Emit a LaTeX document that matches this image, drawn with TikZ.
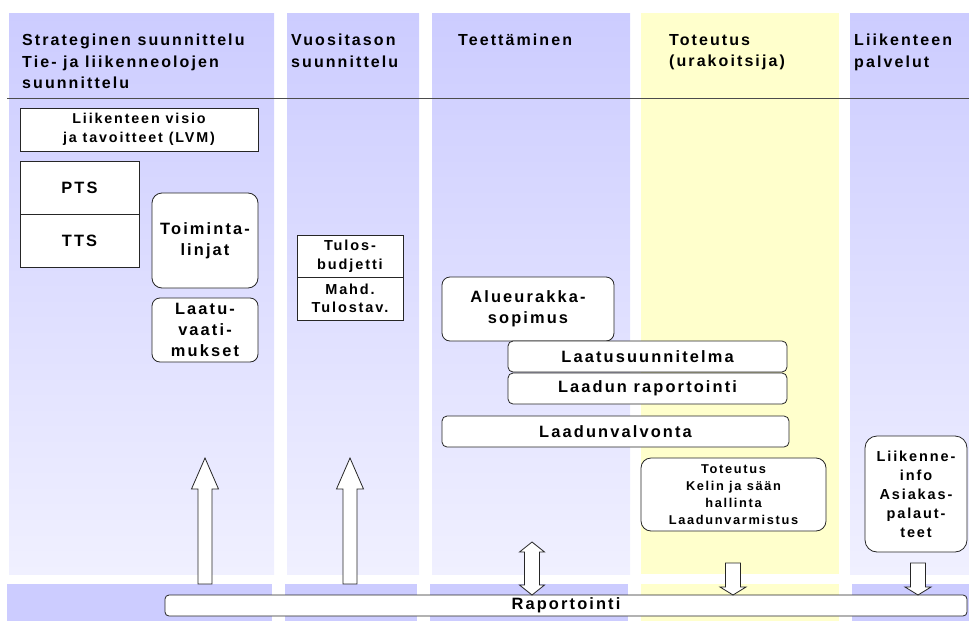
\documentclass[tikz,border=0pt]{standalone}
\usepackage{fontspec}
\setmainfont{Liberation Sans}[LetterSpace=13]
\usepackage{tikz}
\definecolor{lane}{RGB}{204,204,255}
\definecolor{lanelight}{RGB}{240,240,255}
\definecolor{lanegelb}{RGB}{255,255,204}

\tikzset{
  hdr/.style={anchor=north west, inner sep=0pt, align=left,
    font=\fontsize{16}{21.5}\selectfont\bfseries},
  box/.style={draw=black!85, line width=0.8pt, fill=white, inner sep=0pt,
    align=center, font=\fontsize{16.4}{21}\selectfont\bfseries},
  rbox/.style={box, rounded corners=#1},
  rbox/.default=6pt,
  blockarrow/.style={draw=black!85, line width=0.8pt, fill=white}
}

\begin{document}
\begin{tikzpicture}[x=1pt,y=-1pt]
\useasboundingbox (0,0) rectangle (969,621);
% draw lanes
\foreach \xa/\xb in {9/274,287/419,432/630,850/969}{
	\shade[top color=lane, bottom color=lanelight] (\xa,13) rectangle (\xb,574);
}
\fill[lanegelb] (641,13) rectangle (839,574);
\foreach \xa/\xb in {7/272,285/417,430/628,852/969}{
	\fill[lane] (\xa,584) rectangle (\xb,621);
}
\fill[lanegelb] (641,584) rectangle (839,621);
\draw[black!70,line width=1pt] (7,98) -- (969,98);
% draw lane headers
\node (strat) [hdr] at (22,34) {Strateginen suunnittelu\\Tie- ja liikenneolojen\\suunnittelu};
\node (vuosi) [hdr] at (291,34) {Vuositason\\suunnittelu};
\node (teett) [hdr] at (458,34) {Teettäminen};
\node (toteu) [hdr] at (669,34) {Toteutus\\(urakoitsija)};
\node (palv)  [hdr] at (854,34) {Liikenteen\\palvelut};
% draw boxes
\node (lvm) [box, minimum width=238, minimum height=43, font=\fontsize{14.3}{19}\selectfont\bfseries] at (139,129.5) {Liikenteen visio\\ja tavoitteet (LVM)};
\node (pts) [box, minimum width=119, minimum height=53] at (79.5,187.5) {PTS};
\node (tts) [box, minimum width=119, minimum height=53] at (79.5,240.5) {TTS};
\node (toim) [rbox=10pt, minimum width=106, minimum height=95] at (205,240.5) {Toiminta-\\linjat};
\node (laatu) [rbox=8pt, minimum width=106, minimum height=64] at (205,330) {Laatu-\\vaati-\\mukset};
\node (tulos) [box, minimum width=106, minimum height=42, font=\fontsize{14.5}{18.5}\selectfont\bfseries] at (350,256) {Tulos-\\budjetti};
\node (mahd) [box, minimum width=106, minimum height=43, font=\fontsize{14.5}{18.5}\selectfont\bfseries] at (350,298.5) {Mahd.\\Tulostav.};
\node (alue) [rbox=8pt, minimum width=172, minimum height=64] at (528,309) {Alueurakka-\\sopimus};
\node (lsuun) [rbox=5pt, minimum width=279, minimum height=31] at (647.5,356.5) {Laatusuunnitelma};
\node (lrap) [rbox=5pt, minimum width=279, minimum height=31] at (647.5,388.5) {Laadun raportointi};
\node (lval) [rbox=5pt, minimum width=347, minimum height=31] at (615.5,431.5) {Laadunvalvonta};
\node (tot) [rbox=10pt, minimum width=185, minimum height=73, font=\fontsize{12.8}{17}\selectfont\bfseries] at (733.5,494.5) {Toteutus\\Kelin ja sään\\hallinta\\Laadunvarmistus};
\node (liik) [rbox=12pt, minimum width=102, minimum height=116, font=\fontsize{14.5}{19}\selectfont\bfseries] at (916,494) {Liikenne-\\info\\Asiakas-\\palaut-\\teet};
\node (rap) [rbox=4pt, minimum width=802, minimum height=21] at (566,605.5) {Raportointi};
% draw up arrows into planning
\foreach \cx in {205,350}{
	\draw[blockarrow] (\cx-7,584) -- (\cx-7,489) -- (\cx-13.5,489) -- (\cx,458)
		-- (\cx+13.5,489) -- (\cx+7,489) -- (\cx+7,584) -- cycle;
}
% draw double arrow
\draw[blockarrow] (532,542) -- (544.5,552) -- (539.5,552) -- (539.5,585) -- (544.5,585)
	-- (532,595) -- (519.5,585) -- (524.5,585) -- (524.5,552) -- (519.5,552) -- cycle;
% draw down arrows to reporting
\foreach \cx in {733,918}{
	\draw[blockarrow] (\cx-7.5,563) -- (\cx+7.5,563) -- (\cx+7.5,587) -- (\cx+13,587)
		-- (\cx,595) -- (\cx-13,587) -- (\cx-7.5,587) -- cycle;
}
\end{tikzpicture}
\end{document}
